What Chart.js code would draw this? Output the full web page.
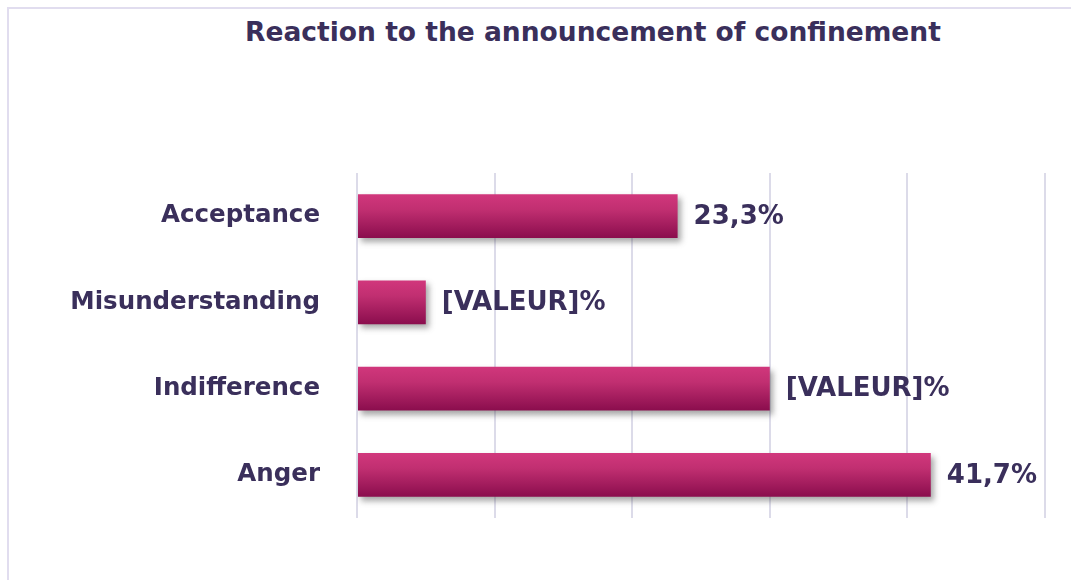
<!DOCTYPE html>
<html>
<head>
<meta charset="utf-8">
<script src="https://cdn.jsdelivr.net/npm/chart.js@4"></script>
<style>
    html, body { margin: 0; padding: 0; background: #fff; }
    #wrap { position: relative; width: 1071px; height: 580px; overflow: hidden; }
    #frame {
        position: absolute; left: 7px; top: 7px; width: 1100px; height: 600px;
        border-left: 2px solid #e1ddef; border-top: 2px solid #e1ddef;
    }
    #title {
        position: absolute; left: 0; top: 16px; width: 1186px; text-align: center;
        font: bold 26.5px "DejaVu Sans", sans-serif; color: #3a2f5b;
    }
    #chart { position: absolute; left: 0; top: 0; }
</style>
</head>
<body>
<div id="wrap">
    <div id="frame"></div>
    <div id="title">Reaction to the announcement of confinement</div>
    <canvas id="chart" width="1071" height="580"></canvas>
</div>
<script>
    const categories = ["Acceptance", "Misunderstanding", "Indifference", "Anger"];
    const percents = [23.3, 5.0, 30.0, 41.7];
    const valueLabels = ["23,3%", "[VALEUR]%", "[VALEUR]%", "41,7%"];

    const textColor = "#3a2f5b";
    const barPct = 0.51;

    function barGradient(context) {
        const chart = context.chart;
        const y = chart.scales && chart.scales.y;
        if (!y || !y.height) return "#b8286a";
        const center = y.getPixelForValue(context.dataIndex);
        const half = (y.height / categories.length) * barPct / 2;
        const g = chart.ctx.createLinearGradient(0, center - half, 0, center + half);
        g.addColorStop(0, "#d1377c");
        g.addColorStop(0.35, "#c12f71");
        g.addColorStop(1, "#8a0d4d");
        return g;
    }

    const barShadow = {
        id: "barShadow",
        beforeDatasetsDraw(chart) {
            const ctx = chart.ctx;
            ctx.save();
            ctx.shadowColor = "rgba(60,60,60,0.45)";
            ctx.shadowBlur = 6;
            ctx.shadowOffsetX = 3;
            ctx.shadowOffsetY = 4;
        },
        afterDatasetsDraw(chart) {
            chart.ctx.restore();
        }
    };

    const valueText = {
        id: "valueText",
        afterDatasetsDraw(chart) {
            const ctx = chart.ctx;
            const meta = chart.getDatasetMeta(0);
            ctx.save();
            ctx.font = "bold 26px 'DejaVu Sans', sans-serif";
            ctx.fillStyle = textColor;
            ctx.textAlign = "left";
            ctx.textBaseline = "middle";
            meta.data.forEach(function (bar, i) {
                ctx.fillText(valueLabels[i], bar.x + 16, bar.y + 1);
            });
            ctx.restore();
        }
    };

    new Chart(document.getElementById("chart"), {
        type: "bar",
        data: {
            labels: categories,
            datasets: [{
                data: percents,
                backgroundColor: barGradient,
                borderWidth: 0,
                barPercentage: barPct,
                categoryPercentage: 1
            }]
        },
        options: {
            indexAxis: "y",
            responsive: false,
            animation: false,
            layout: { padding: { left: 0, right: 26, top: 173, bottom: 62 } },
            plugins: {
                legend: { display: false },
                tooltip: { enabled: false }
            },
            scales: {
                x: {
                    min: 0,
                    max: 50,
                    ticks: { display: false, stepSize: 10 },
                    grid: { color: "#dcdbe9", lineWidth: 2, drawTicks: false },
                    border: { display: false }
                },
                y: {
                    afterFit: function (axis) { axis.width = 357; },
                    grid: { display: false },
                    border: { display: false },
                    ticks: {
                        padding: 29,
                        color: textColor,
                        font: { family: "'DejaVu Sans', sans-serif", size: 24.5, weight: "bold" }
                    }
                }
            }
        },
        plugins: [barShadow, valueText]
    });
</script>
</body>
</html>
